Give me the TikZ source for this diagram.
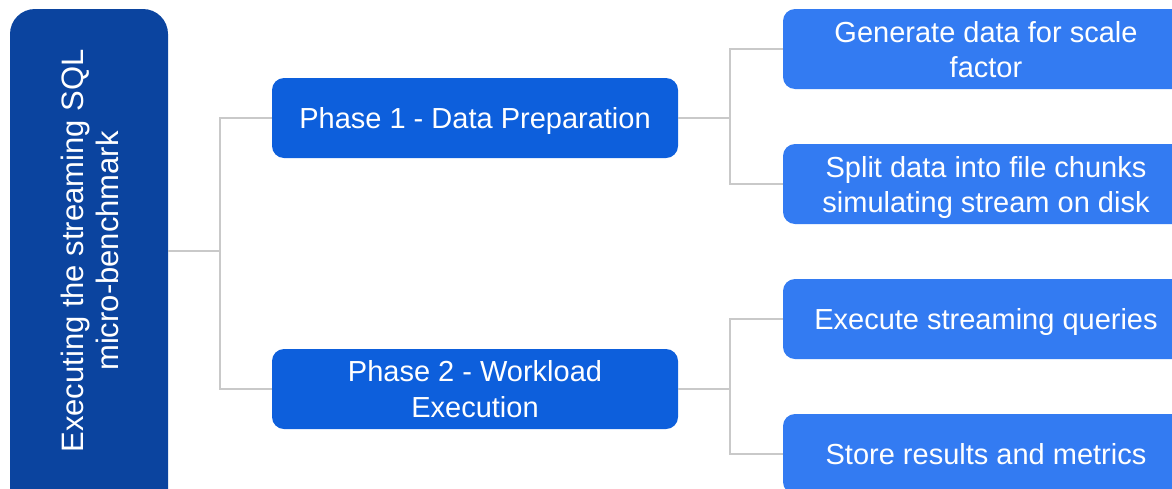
\documentclass[tikz,border=0pt]{standalone}
\usepackage{fontspec}
\setmainfont{Liberation Sans}
\definecolor{rootblue}{HTML}{0B449F}
\definecolor{phaseblue}{HTML}{0D5FDC}
\definecolor{stepblue}{HTML}{337BF2}
\definecolor{linkgray}{HTML}{C9C9C9}
\tikzset{
  box/.style={rectangle, draw=none, text=white, align=center, inner sep=0pt,
    font=\fontsize{29}{35}\selectfont, text height=21pt, text depth=0pt},
  twolines/.style={text height=56pt},
  rootbox/.style={rectangle, draw=none, fill=rootblue, rounded corners=25pt},
  roottext/.style={box, font=\fontsize{31}{35}\selectfont, text height=57pt},
  phasebox/.style={box, fill=phaseblue, rounded corners=12pt, minimum width=406pt, minimum height=80pt},
  stepbox/.style={box, fill=stepblue, rounded corners=12pt, minimum width=406pt, minimum height=80pt},
  link/.style={draw=linkgray, line width=2pt},
}
\begin{document}
\begin{tikzpicture}[x=1pt, y=-1pt]
  \useasboundingbox (0,0) rectangle (1172,488);
  \clip (0,0) rectangle (1172,488);

  % root
  \node[rootbox, minimum width=158pt, minimum height=511pt] (rootbox) at (89,264.5) {};
  \node[roottext, rotate=90] (root) at (89.5,251) {Executing the streaming SQL\\micro-benchmark};

  % phases
  \node[phasebox] (p1) at (475,118) {Phase 1 - Data Preparation};
  \node[phasebox, twolines, font=\fontsize{29}{36}\selectfont, text height=57pt] (p2) at (475,389) {Phase 2 - Workload\\Execution};

  % steps
  \node[stepbox, twolines] (c1) at (986,49) {Generate data for scale\\factor};
  \node[stepbox, twolines] (c2) at (986,184) {Split data into file chunks\\simulating stream on disk};
  \node[stepbox] (c3) at (986,319) {Execute streaming queries};
  \node[stepbox] (c4) at (986,454) {Store results and metrics};

  % forks
  \coordinate (r) at (220,251);
  \coordinate (f1) at (730,118);
  \coordinate (f2) at (730,389);

  \draw[link] (rootbox.east |- root) -- (r);
  \draw[link] (p1.west) -| (r);
  \draw[link] (p2.west) -| (r);

  \draw[link] (p1.east) -- (f1);
  \draw[link] (c1.west) -| (f1);
  \draw[link] (c2.west) -| (f1);

  \draw[link] (p2.east) -- (f2);
  \draw[link] (c3.west) -| (f2);
  \draw[link] (c4.west) -| (f2);
\end{tikzpicture}
\end{document}
